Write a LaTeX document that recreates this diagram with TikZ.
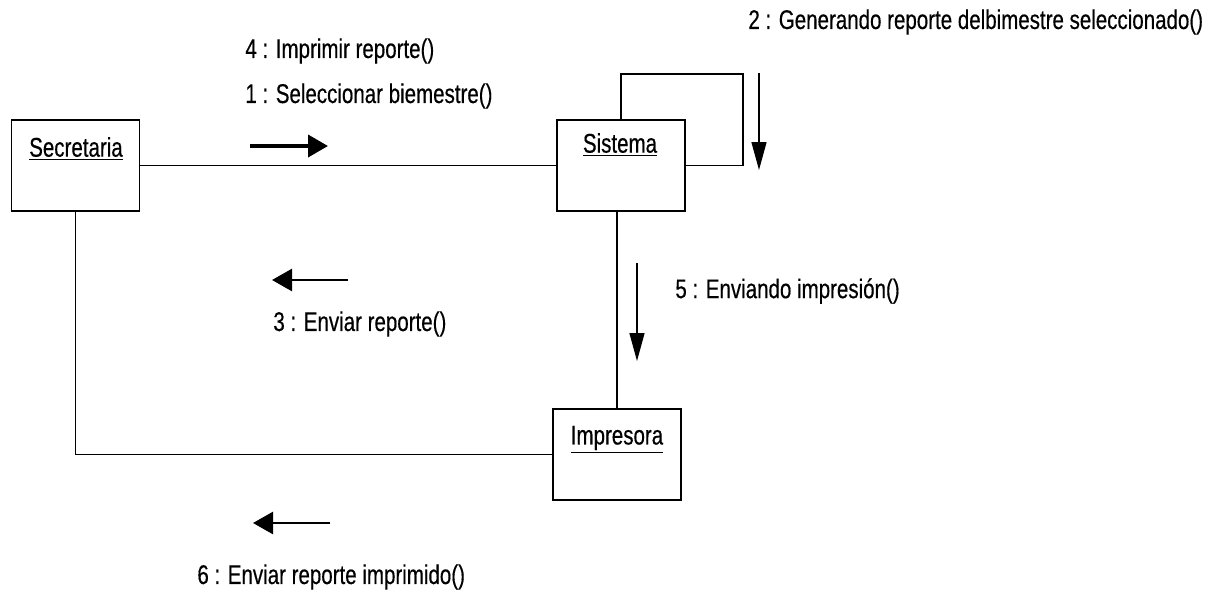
\documentclass[tikz,border=0pt]{standalone}
\usepackage{fontspec}
\setmainfont{Liberation Sans}[FakeStretch=0.76,FakeBold=0.4]
\usetikzlibrary{arrows.meta}
\begin{document}
\begin{tikzpicture}[x=0.5pt,y=-0.5pt,
  every node/.style={font=\fontsize{13.5}{16}\selectfont, inner sep=0pt},
  obj/.style={draw, line width=0.8pt, minimum width=64pt, minimum height=45.5pt},
  conn/.style={line width=0.8pt},
  msg/.style={anchor=west},
  harrow/.style={line width=1.3pt, -{Triangle[length=10pt,width=11pt]}},
  harrowb/.style={line width=1.9pt, -{Triangle[length=10pt,width=11pt]}},
  varrow/.style={line width=0.7pt, -{Triangle[length=14pt,width=7.5pt]}}]
\path[use as bounding box, fill=white] (0,0) rectangle (1222,595);

% objects
\node[obj] (sec) at (75.5,165.5) {};
\node (secl) at (76,149) {\underline{Secretaria}};
\node[obj] (sis) at (621,165.5) {};
\node (sisl) at (620,145) {\underline{Sistema}};
\node[obj] (imp) at (617,454.5) {};
\node (impl) at (617,440) {\underline{Impresora}};

% links
\draw[conn] (sec) -- (sis);
\draw[conn] (sec.south) |- (imp.west);
\draw[conn] (imp.north) -- (imp.north |- sis.south);
\coordinate (lr) at (743,74);
\draw[conn] (sis.north) |- (lr) |- (sis.east);

% message arrows
\coordinate (a1s) at (250,146); \coordinate (a1e) at (328,146);
\draw[harrowb] (a1s) -- (a1e);
\coordinate (a2s) at (759,73); \coordinate (a2e) at (759,170);
\draw[varrow] (a2s) -- (a2e);
\coordinate (a3s) at (348,280); \coordinate (a3e) at (272,280);
\draw[harrow] (a3s) -- (a3e);
\coordinate (a5s) at (637,263); \coordinate (a5e) at (637,361);
\draw[varrow] (a5s) -- (a5e);
\coordinate (a6s) at (330,523); \coordinate (a6e) at (253,523);
\draw[harrow] (a6s) -- (a6e);

% labels
\node[msg] (m4) at (245,51) {4 : Imprimir reporte()};
\node[msg] (m1) at (245,96) {1 : Seleccionar biemestre()};
\node[msg] (m2) at (748,22) {2 : Generando reporte delbimestre seleccionado()};
\node[msg] (m3) at (273,324) {3 : Enviar reporte()};
\node[msg] (m5) at (675,291) {5 : Enviando impresión()};
\node[msg] (m6) at (197,577) {6 : Enviar reporte imprimido()};
\end{tikzpicture}
\end{document}
